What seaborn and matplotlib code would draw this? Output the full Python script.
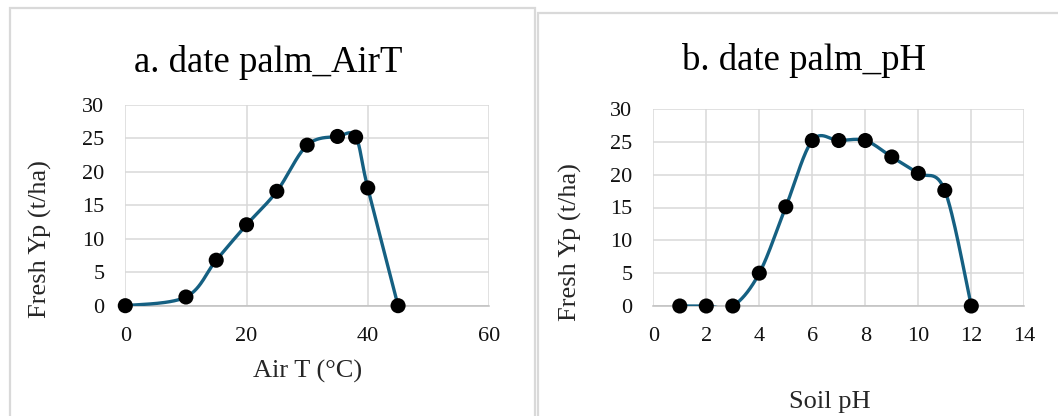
import numpy as np
import pandas as pd
import matplotlib
matplotlib.use("Agg")
import matplotlib.pyplot as plt
import seaborn as sns
from matplotlib.patches import Rectangle

# ------------------------------------------------------------
# Data
# ------------------------------------------------------------
air_t = [0, 10, 15, 20, 25, 30, 35, 38, 40, 45]
air_t_yield = [0, 1.3, 6.8, 12.1, 17.1, 24.0, 25.3, 25.2, 17.6, 0]

soil_ph = [1, 2, 3, 4, 5, 6, 7, 8, 9, 10, 11, 12]
soil_ph_yield = [0, 0, 0, 5.0, 15.1, 25.2, 25.2, 25.2, 22.7, 20.2, 17.6, 0]

titles = ["a. date palm_AirT", "b. date palm_pH"]
xlabels = ["Air T (°C)", "Soil pH"]
ylabel = "Fresh Yp (t/ha)"
xticks_a = [0, 20, 40, 60]
xticks_b = [0, 2, 4, 6, 8, 10, 12, 14]
yticks = [0, 5, 10, 15, 20, 25, 30]

LINE_COLOR = "#156082"
GRID_COLOR = "#d9d9d9"


def smooth_curve(xs, ys, n=30):
    """Excel-like smoothed line: Catmull-Rom segments drawn as cubic Beziers."""
    p = np.column_stack([xs, ys]).astype(float)
    p = np.vstack([p[0], p, p[-1]])
    out = []
    t = np.linspace(0, 1, n)[:, None]
    for i in range(1, len(p) - 2):
        p0, p3 = p[i], p[i + 1]
        c1 = p0 + (p[i + 1] - p[i - 1]) / 6
        c2 = p3 - (p[i + 2] - p[i]) / 6
        seg = ((1 - t) ** 3) * p0 + 3 * ((1 - t) ** 2) * t * c1 \
            + 3 * (1 - t) * t ** 2 * c2 + t ** 3 * p3
        out.append(seg if i == 1 else seg[1:])
    out = np.vstack(out)
    return pd.DataFrame({"x": out[:, 0], "y": out[:, 1]})


sns.set_theme(style="white")
plt.rcParams["font.family"] = ["Liberation Serif", "DejaVu Serif"]

W, H = 1058, 416
fig = plt.figure(figsize=(W / 100, H / 100), dpi=100)

# panel frames (the chart-area borders of the two Excel charts)
for (x0, y0, x1, y1) in [(10, 8, 535, 430), (538, 12.5, 1070, 430)]:
    fig.patches.append(Rectangle((x0 / W, 1 - y1 / H), (x1 - x0) / W, (y1 - y0) / H,
                                 transform=fig.transFigure, fill=False,
                                 edgecolor=GRID_COLOR, linewidth=1.6, zorder=0))

# axes rectangles in pixels: left, top, right, bottom
ax_boxes = [(125.3, 105.0, 489.0, 305.7), (653.3, 109.0, 1024.3, 306.0)]
panels = [
    (air_t, air_t_yield, xticks_a),
    (soil_ph, soil_ph_yield, xticks_b),
]
title_pos = [(268, 72), (803.5, 69.5)]
xlabel_coords = [(0.501, -0.330), (0.476, -0.487)]
ylabel_coords = [(-0.2345, 0.332), (-0.222, 0.326)]

for k, ((l, t, r, b), (xs, ys, xt)) in enumerate(zip(ax_boxes, panels)):
    ax = fig.add_axes([l / W, 1 - b / H, (r - l) / W, (b - t) / H])

    curve = smooth_curve(xs, ys)
    sns.lineplot(data=curve, x="x", y="y", ax=ax, sort=False, estimator=None,
                 color=LINE_COLOR, linewidth=2.4, zorder=3)
    sns.scatterplot(x=xs, y=ys, ax=ax, color="black", s=118,
                    edgecolor="none", zorder=4, clip_on=False)

    ax.set_xlim(xt[0], xt[-1])
    ax.set_ylim(yticks[0], yticks[-1])
    ax.set_xticks(xt)
    ax.set_yticks(yticks)
    ax.grid(True, color=GRID_COLOR, linewidth=1.1)
    ax.set_axisbelow(True)
    for side in ["top", "right", "left"]:
        ax.spines[side].set_visible(False)
    ax.spines["bottom"].set_color("#bfbfbf")
    ax.spines["bottom"].set_linewidth(1.1)
    ax.tick_params(axis="both", length=0, labelsize=16, colors="#111111")
    ax.tick_params(axis="y", pad=15)
    ax.tick_params(axis="x", pad=15)

    ax.set_xlabel(xlabels[k], fontsize=19, va="center", ha="center")
    ax.xaxis.set_label_coords(*xlabel_coords[k])
    ax.set_ylabel(ylabel, fontsize=19, va="center", ha="center")
    ax.yaxis.set_label_coords(*ylabel_coords[k])

    tx, ty = title_pos[k]
    fig.text(tx / W, 1 - ty / H, titles[k], fontsize=26.5, ha="center",
             va="baseline", color="black")

fig.savefig("out.png", dpi=100)
